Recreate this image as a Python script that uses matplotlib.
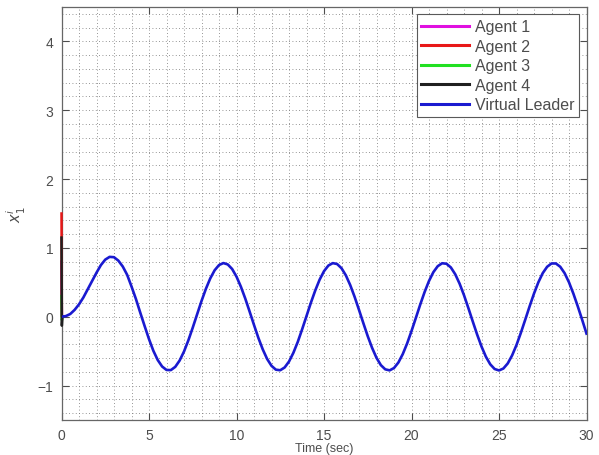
import numpy as np
import matplotlib.pyplot as plt
from matplotlib.ticker import MultipleLocator

plt.rcParams['font.family'] = ['Liberation Sans', 'DejaVu Sans']

t_leader = np.arange(0, 30.01, 0.25)
x_leader = [
    0.000, 0.010, 0.040, 0.100, 0.180, 0.280, 0.400, 0.520, 0.640, 0.750,
    0.830, 0.870, 0.865, 0.815, 0.730, 0.610, 0.440, 0.260, 0.060, -0.135,
    -0.325, -0.495, -0.629, -0.723, -0.773, -0.775, -0.728, -0.636, -0.505, -0.342,
    -0.158, 0.036, 0.228, 0.405, 0.557, 0.675, 0.751, 0.780, 0.760, 0.694,
    0.583, 0.437, 0.265, 0.075, -0.119, -0.307, -0.474, -0.613, -0.713, -0.769,
    -0.777, -0.737, -0.651, -0.524, -0.366, -0.183, 0.010, 0.203, 0.382, 0.539,
    0.662, 0.744, 0.779, 0.766, 0.705, 0.601, 0.459, 0.289, 0.100, -0.094,
    -0.283, -0.453, -0.597, -0.703, -0.764, -0.779, -0.745, -0.665, -0.543, -0.388,
    -0.208, -0.016, 0.178, 0.360, 0.520, 0.648, 0.735, 0.777, 0.770, 0.716,
    0.617, 0.480, 0.313, 0.126, -0.068, -0.258, -0.432, -0.580, -0.691, -0.759,
    -0.780, -0.752, -0.678, -0.561, -0.410, -0.233, -0.042, 0.152, 0.337, 0.501,
    0.634, 0.726, 0.774, 0.774, 0.726, 0.633, 0.500, 0.336, 0.152, -0.042,
    -0.245,
]

# agents converge almost instantly onto the leader
t_agent = [0.0, 0.02, 0.05]
x_agent1 = [0.80, 0.00, 0.00]
x_agent2 = [1.50, 0.00, 0.00]
x_agent3 = [0.30, -0.05, 0.00]
x_agent4 = [1.15, -0.13, 0.00]

fig = plt.figure(figsize=(5.99, 4.56), dpi=100)
ax = fig.add_axes([61.5 / 599, 35 / 456, 525 / 599, 413 / 456])

ax.plot(t_agent, x_agent1, color='#e010e0', lw=1.8, label='Agent 1', clip_on=False, zorder=3)
ax.plot(t_agent, x_agent2, color='#e81818', lw=1.8, label='Agent 2', clip_on=False, zorder=3)
ax.plot(t_agent, x_agent3, color='#22e022', lw=1.8, label='Agent 3', clip_on=False, zorder=3)
ax.plot(t_agent, x_agent4, color='#202020', lw=1.8, label='Agent 4', clip_on=False, zorder=3)
ax.plot(t_leader, x_leader, color='#1a1ad0', lw=1.9, label='Virtual Leader', zorder=4)

ax.set_xlim(0, 30)
ax.set_ylim(-1.5, 4.5)
ax.xaxis.set_major_locator(MultipleLocator(5))
ax.xaxis.set_minor_locator(MultipleLocator(1))
ax.yaxis.set_major_locator(MultipleLocator(1))
ax.yaxis.set_minor_locator(MultipleLocator(0.2))

ax.grid(True, which='both', linestyle=(0, (1, 3)), color='0.45', linewidth=0.6)
ax.tick_params(which='major', direction='in', length=5, width=0.8, color='0.3',
               top=True, right=True, labelsize=10, labelcolor='0.3', pad=6)
ax.tick_params(which='minor', length=0, top=True, right=True)
for s in ax.spines.values():
    s.set_color('0.4')
    s.set_linewidth(0.9)

ax.set_xlabel('Time (sec)', fontsize=9, color='0.3', labelpad=0)
ax.set_ylabel(r'$x_1^i$', fontsize=10.5, color='0.3', labelpad=7)

leg = ax.legend(loc='upper right', bbox_to_anchor=(0.986, 0.982), borderaxespad=0,
                fancybox=False, framealpha=1, edgecolor='0.35', fontsize=11.5,
                handlelength=3.0, handletextpad=0.35, labelspacing=0.28,
                borderpad=0.3, labelcolor='0.3')
leg.get_frame().set_linewidth(0.8)
for line in leg.get_lines():
    line.set_linewidth(2.2)

fig.savefig('out.png', dpi=100)
